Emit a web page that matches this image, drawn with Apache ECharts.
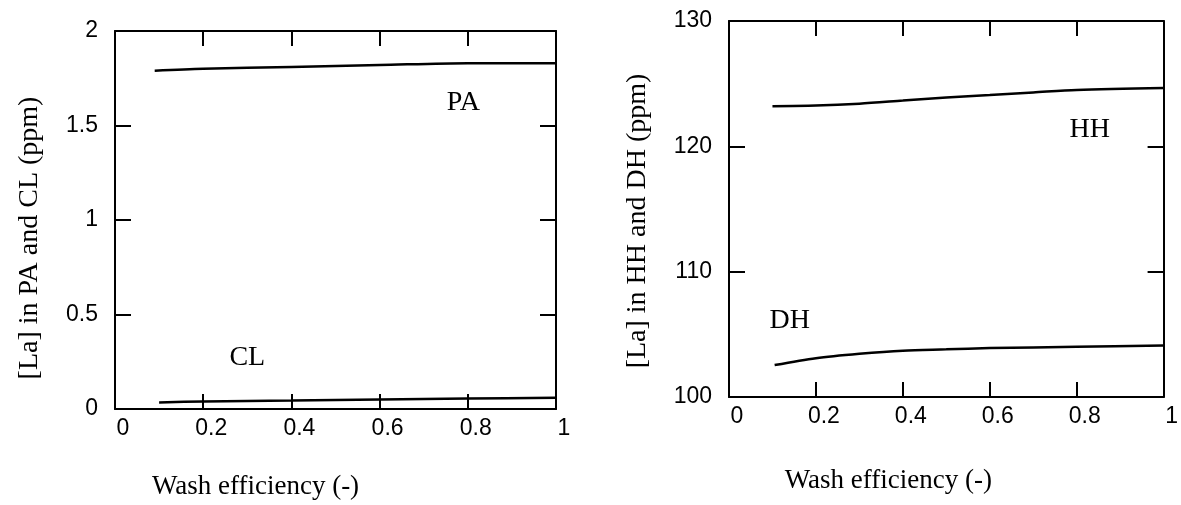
<!DOCTYPE html>
<html>
<head>
<meta charset="utf-8">
<script src="https://cdn.jsdelivr.net/npm/echarts@6/dist/echarts.min.js"></script>
<style>
  html, body { margin: 0; padding: 0; background: #fff; }
  #chart { width: 1181px; height: 505px; }
</style>
</head>
<body>
<div id="chart"></div>
<script>
// left panel: PA and CL
const xPA = [0.09, 0.2, 0.4, 0.6, 0.8, 1.0];
const paValues = [1.79, 1.80, 1.81, 1.82, 1.83, 1.83];
const xCL = [0.1, 0.2, 0.4, 0.6, 0.8, 1.0];
const clValues = [0.035, 0.04, 0.045, 0.05, 0.055, 0.06];

// right panel: HH and DH
const xHH = [0.1, 0.2, 0.3, 0.4, 0.5, 0.6, 0.7, 0.8, 1.0];
const hhValues = [123.2, 123.25, 123.4, 123.65, 123.9, 124.1, 124.3, 124.5, 124.65];
const xDH = [0.105, 0.2, 0.3, 0.4, 0.5, 0.6, 0.8, 1.0];
const dhValues = [102.55, 103.1, 103.45, 103.7, 103.8, 103.9, 104.0, 104.1];

// curve names placed inside the plots (data coords)
const leftLabels = [['PA', 0.79, 1.62], ['CL', 0.30, 0.27]];
const rightLabels = [['HH', 0.83, 121.3], ['DH', 0.14, 106.1]];

const sans = 'Liberation Sans';
const serif = 'Liberation Serif';

function zip(xs, ys) {
  return xs.map((x, i) => [x, ys[i]]);
}

function xAxes(gi, shift, gap) {
  const base = {
    type: 'value', gridIndex: gi, min: 0, max: 1, interval: 0.2,
    splitLine: { show: false },
    axisLine: { show: true, onZero: false, lineStyle: { color: '#000', width: 2 } },
    axisTick: { show: true, inside: true, length: 15, lineStyle: { color: '#000', width: 2 } }
  };
  return [
    Object.assign({}, base, {
      position: 'bottom',
      name: 'Wash efficiency (-)',
      nameLocation: 'middle',
      nameGap: gap,
      nameTextStyle: { fontFamily: serif, fontSize: 27, color: '#000', padding: [0, shift, 0, 0] },
      axisLabel: { fontFamily: sans, fontSize: 23, color: '#000', margin: 8, padding: [0, 0, 0, 16] }
    }),
    Object.assign({}, base, { position: 'top', axisLabel: { show: false } })
  ];
}

function yAxes(gi, min, max, interval, title, gap, shift) {
  const base = {
    type: 'value', gridIndex: gi, min: min, max: max, interval: interval,
    splitLine: { show: false },
    axisLine: { show: true, onZero: false, lineStyle: { color: '#000', width: 2 } },
    axisTick: { show: true, inside: true, length: 16, lineStyle: { color: '#000', width: 2 } }
  };
  return [
    Object.assign({}, base, {
      position: 'left',
      name: title,
      nameLocation: 'middle',
      nameGap: gap,
      nameTextStyle: { fontFamily: serif, fontSize: 28, color: '#000', padding: [0, shift, 0, 0] },
      axisLabel: { fontFamily: sans, fontSize: 23, color: '#000', margin: 17 }
    }),
    Object.assign({}, base, { position: 'right', axisLabel: { show: false } })
  ];
}

function curve(xi, yi, data) {
  return {
    type: 'line', xAxisIndex: xi, yAxisIndex: yi, data: data,
    showSymbol: false, symbol: 'none', smooth: 0.3,
    lineStyle: { color: '#000', width: 2.5 }
  };
}

function tags(xi, yi, list) {
  return {
    type: 'scatter', xAxisIndex: xi, yAxisIndex: yi, symbolSize: 0,
    itemStyle: { opacity: 1 },
    data: list.map(l => ({ name: l[0], value: [l[1], l[2]] })),
    label: {
      show: true, position: 'inside', formatter: '{b}',
      fontFamily: serif, fontSize: 28, color: '#000', opacity: 1
    },
    silent: true
  };
}

const chart = echarts.init(document.getElementById('chart'));
chart.setOption({
  animation: false,
  backgroundColor: '#fff',
  grid: [
    { left: 115, top: 31, width: 441, height: 379 },
    { left: 729, top: 21, width: 439, height: 376 }
  ],
  xAxis: xAxes(0, 160, 64).concat(xAxes(1, 116, 70)),
  yAxis: yAxes(0, 0, 2, 0.5, '[La] in PA and CL (ppm)', 71, 36)
    .concat(yAxes(1, 100, 130, 10, '[La] in HH and DH (ppm)', 77, 24)),
  series: [
    curve(0, 0, zip(xPA, paValues)),
    curve(0, 0, zip(xCL, clValues)),
    tags(0, 0, leftLabels),
    curve(2, 2, zip(xHH, hhValues)),
    curve(2, 2, zip(xDH, dhValues)),
    tags(2, 2, rightLabels)
  ]
});
</script>
</body>
</html>
